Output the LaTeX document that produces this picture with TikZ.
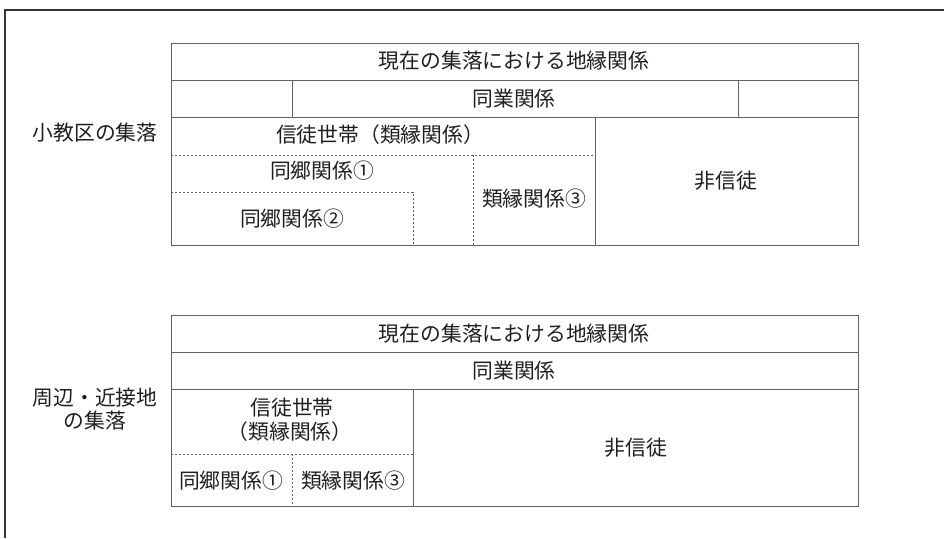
\documentclass[tikz,border=0pt]{standalone}
\usepackage{fontspec}
\setmainfont{Noto Sans CJK JP}
\begin{document}
\begin{tikzpicture}[x=1pt,y=-1pt,
  tline/.style={draw=black!62, line width=1pt},
  dline/.style={draw=black!62, line width=0.8pt, dash pattern=on 2.2pt off 1.8pt},
  lbl/.style={font=\fontsize{20.8}{24}\selectfont, inner sep=0pt, align=center, text=black!88}]
\useasboundingbox (0,0) rectangle (944,538);
% frame
\draw[draw=black!80, line width=1.2pt] (5,538) -- (5,10) -- (944,10);
% ---- top table ----
\draw[tline] (171,43) rectangle (858,245);
\draw[tline] (171,80) -- (858,80);
\draw[tline] (171,117) -- (858,117);
\draw[tline] (292,80) -- (292,117);
\draw[tline] (738,80) -- (738,117);
\draw[tline] (595,117) -- (595,245);
\draw[dline] (171,155) -- (595,155);
\draw[dline] (473,155) -- (473,245);
\draw[dline] (171,192) -- (413,192) -- (413,245);
\node[lbl] (t1) at (514,61) {現在の集落における地縁関係};
\node[lbl] (t2) at (514,99) {同業関係};
\node[lbl] (t3) at (380,135) {信徒世帯（類縁関係）};
\node[lbl] (t4) at (322,171) {同郷関係①};
\node[lbl] (t5) at (292,219) {同郷関係②};
\node[lbl] (t6) at (534,199) {類縁関係③};
\node[lbl] (t7) at (726,181) {非信徒};
\node[lbl] (la) at (95,133) {小教区の集落};
% ---- bottom table ----
\draw[tline] (171,315) rectangle (858,506);
\draw[tline] (171,352) -- (858,352);
\draw[tline] (171,389) -- (858,389);
\draw[tline] (413,389) -- (413,506);
\draw[dline] (171,454) -- (413,454);
\draw[dline] (292,454) -- (292,506);
\node[lbl] (b1) at (514,334) {現在の集落における地縁関係};
\node[lbl] (b2) at (514,371) {同業関係};
\node[lbl] (b3) at (292,408) {信徒世帯};
\node[lbl] (b3b) at (290,432) {（類縁関係）};
\node[lbl] (b4) at (231,481) {同郷関係①};
\node[lbl] (b5) at (353,481) {類縁関係③};
\node[lbl] (b6) at (636,448) {非信徒};
\node[lbl] (lb) at (95,398) {周辺・近接地};
\node[lbl] (lb2) at (95,421) {の集落};
\end{tikzpicture}
\end{document}
